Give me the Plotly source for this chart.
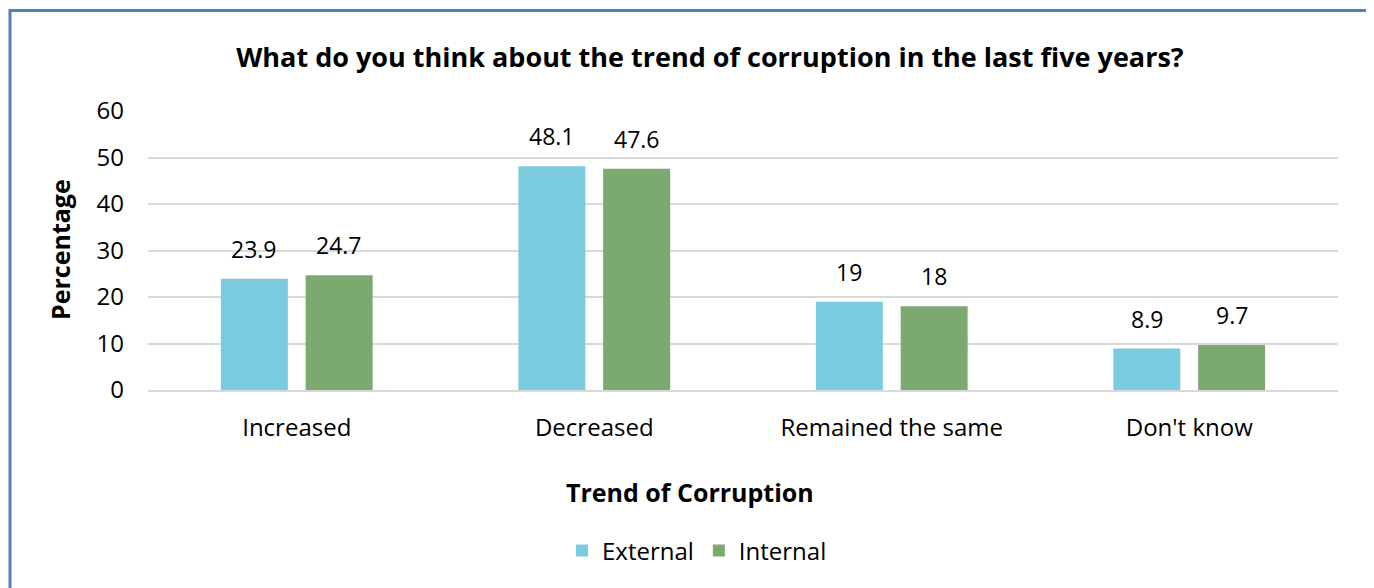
import plotly.graph_objects as go

categories = ["Increased", "Decreased", "Remained the same", "Don't know"]
external = [23.9, 48.1, 19, 8.9]
internal = [24.7, 47.6, 18, 9.7]
external_labels = ["23.9", "48.1", "19", "8.9"]
internal_labels = ["24.7", "47.6", "18", "9.7"]
y_ticks = [0, 10, 20, 30, 40, 50, 60]

# page is offset by the default 8px body margin
OFF = 8
W, H = 1374 - OFF, 588 - OFF
PL, PR, PT, PB = 148, 1338, 111, 390  # plot area in page pixels
PW, PH = PR - PL, PB - PT
FONT = "Open Sans"

fig = go.Figure()
fig.add_trace(go.Bar(name="External", x=categories, y=external, marker_color="#7BCBE0",
                     marker_line_width=0))
fig.add_trace(go.Bar(name="Internal", x=categories, y=internal, marker_color="#7BA970",
                     marker_line_width=0))

for vals, labels, shift in ((external, external_labels, -42.5), (internal, internal_labels, 42.5)):
    for c, v, t in zip(categories, vals, labels):
        fig.add_annotation(x=c, y=v, xref="x", yref="y", text=t, showarrow=False,
                           xshift=shift, yshift=30, yanchor="middle", xanchor="center",
                           font=dict(size=23, family=FONT, color="#000000"))

fig.update_layout(
    width=W, height=H,
    paper_bgcolor="white", plot_bgcolor="white",
    margin=dict(l=PL - OFF, r=W - (PR - OFF), t=PT - OFF, b=H - (PB - OFF), autoexpand=False),
    barmode="group", bargap=0.43, bargroupgap=0.21,
    font=dict(family=FONT, size=24, color="#000000"),
    title=dict(text="<b>What do you think about the trend of corruption in the last five years?</b>",
               x=(710 - OFF) / W, xanchor="center", y=1 - (58 - OFF) / H, yanchor="middle",
               font=dict(size=27, family=FONT, color="#000000")),
    legend=dict(orientation="h", x=(697 - PL) / PW, xanchor="center",
                y=-(551 - PB) / PH, yanchor="middle",
                font=dict(size=24), traceorder="normal"),
    showlegend=True,
)
fig.update_yaxes(range=[0, 60], tickvals=y_ticks, showgrid=True, gridcolor="#d9d9d9",
                 gridwidth=2, zeroline=False, showline=False, ticks="",
                 ticklabelstandoff=23, tickfont=dict(size=24))
fig.update_xaxes(showline=True, linecolor="#d9d9d9", linewidth=2, ticks="",
                 ticklabelstandoff=15, tickfont=dict(size=24))

fig.add_annotation(text="<b>Trend of Corruption</b>", xref="paper", yref="paper",
                   x=(690 - PL) / PW, y=-(492 - PB) / PH,
                   xanchor="center", yanchor="middle", showarrow=False,
                   font=dict(size=25, family=FONT))
fig.add_annotation(text="<b>Percentage</b>", xref="paper", yref="paper",
                   x=-(PL - 60) / PW, y=(PB - 250) / PH,
                   xanchor="center", yanchor="middle", showarrow=False, textangle=-90,
                   font=dict(size=25, family=FONT))

fig.add_shape(type="rect", xref="paper", yref="paper",
              x0=-(PL - 10) / PW, x1=1 + (1369 - PR) / PW,
              y0=-(610 - PB) / PH, y1=1 + (PT - 10.5) / PH,
              line=dict(color="#4F81BD", width=3), fillcolor="rgba(0,0,0,0)", layer="above")

fig.write_html("out.html")
